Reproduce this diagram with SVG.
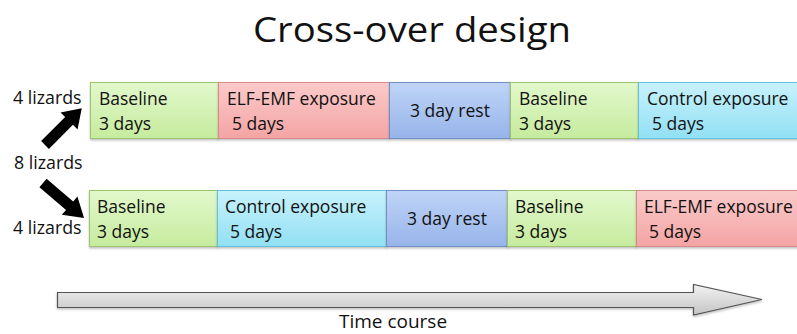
<svg xmlns="http://www.w3.org/2000/svg" width="797" height="334" viewBox="0 0 797 334">
  <defs>
    <linearGradient id="gGreen" x1="0" y1="0" x2="0" y2="1">
      <stop offset="0" stop-color="#e2f8cc"/>
      <stop offset="1" stop-color="#c6eb9e"/>
    </linearGradient>
    <linearGradient id="gRed" x1="0" y1="0" x2="0" y2="1">
      <stop offset="0" stop-color="#fbcaca"/>
      <stop offset="1" stop-color="#f4a4a4"/>
    </linearGradient>
    <linearGradient id="gBlue" x1="0" y1="0" x2="0" y2="1">
      <stop offset="0" stop-color="#bfd4f6"/>
      <stop offset="1" stop-color="#97b4ea"/>
    </linearGradient>
    <linearGradient id="gCyan" x1="0" y1="0" x2="0" y2="1">
      <stop offset="0" stop-color="#c8f2fc"/>
      <stop offset="1" stop-color="#92e0f4"/>
    </linearGradient>
    <linearGradient id="gGrey" x1="0" y1="0" x2="0" y2="1">
      <stop offset="0" stop-color="#f2f2f2"/>
      <stop offset="1" stop-color="#c4c4c4"/>
    </linearGradient>
    <filter id="shadow" x="-5%" y="-10%" width="110%" height="130%">
      <feDropShadow dx="0" dy="1.5" stdDeviation="1.2" flood-color="#000" flood-opacity="0.25"/>
    </filter>
  </defs>
  <style>
    text { font-family: "Open Sans", "Liberation Sans", sans-serif; fill: #111; }
    .box { stroke-width: 1; filter: url(#shadow); }
    .green { fill: url(#gGreen); stroke: #9cc46c; }
    .red { fill: url(#gRed); stroke: #d88a8a; }
    .blue { fill: url(#gBlue); stroke: #6f8fc6; }
    .cyan { fill: url(#gCyan); stroke: #62c2dc; }
    .lbl { font-size: 17.5px; }
    .side { font-size: 17.8px; }
    .mid { text-anchor: middle; }
  </style>

  <rect width="797" height="334" fill="#fff"/>

  <text x="412" y="42" font-size="34" class="mid" textLength="318" lengthAdjust="spacingAndGlyphs">Cross-over design</text>

  <!-- group labels -->
  <g id="labels">
    <text class="side" x="13" y="104">4 lizards</text>
    <text class="side" x="14" y="169">8 lizards</text>
    <text class="side" x="13" y="234">4 lizards</text>
  </g>

  <!-- split arrows -->
  <g id="connectors" fill="#000">
    <polygon transform="translate(45,145) rotate(-45)" points="0,-5.5 34,-5.5 34,-12 52,0 34,12 34,5.5 0,5.5"/>
    <polygon transform="translate(43,183) rotate(40.5)" points="0,-5.5 35,-5.5 35,-12 54,0 35,12 35,5.5 0,5.5"/>
  </g>

  <!-- upper group timeline -->
  <g id="row1">
    <g id="r1-baseline">
      <rect class="box green" x="90.5" y="82.5" width="128" height="56"/>
      <text class="lbl" x="99" y="105">Baseline</text>
      <text class="lbl" x="99" y="130">3 days</text>
    </g>
    <g id="r1-elf">
      <rect class="box red" x="218.5" y="82.5" width="171" height="56"/>
      <text class="lbl" x="227" y="105">ELF-EMF exposure</text>
      <text class="lbl" x="232" y="130">5 days</text>
    </g>
    <g id="r1-rest">
      <rect class="box blue" x="389.5" y="82.5" width="121" height="56"/>
      <text class="lbl mid" x="450" y="117">3 day rest</text>
    </g>
    <g id="r1-baseline2">
      <rect class="box green" x="510.5" y="82.5" width="128" height="56"/>
      <text class="lbl" x="519" y="105">Baseline</text>
      <text class="lbl" x="519" y="130">3 days</text>
    </g>
    <g id="r1-control">
      <rect class="box cyan" x="638.5" y="82.5" width="162" height="56"/>
      <text class="lbl" x="647" y="105">Control exposure</text>
      <text class="lbl" x="652" y="130">5 days</text>
    </g>
  </g>

  <!-- lower group timeline -->
  <g id="row2">
    <g id="r2-baseline">
      <rect class="box green" x="89.5" y="190.5" width="128" height="56"/>
      <text class="lbl" x="97" y="213">Baseline</text>
      <text class="lbl" x="97" y="238">3 days</text>
    </g>
    <g id="r2-control">
      <rect class="box cyan" x="217.5" y="190.5" width="169" height="56"/>
      <text class="lbl" x="225" y="213">Control exposure</text>
      <text class="lbl" x="230" y="238">5 days</text>
    </g>
    <g id="r2-rest">
      <rect class="box blue" x="386.5" y="190.5" width="121" height="56"/>
      <text class="lbl mid" x="447" y="225">3 day rest</text>
    </g>
    <g id="r2-baseline2">
      <rect class="box green" x="507.5" y="190.5" width="129" height="56"/>
      <text class="lbl" x="515" y="213">Baseline</text>
      <text class="lbl" x="515" y="238">3 days</text>
    </g>
    <g id="r2-elf">
      <rect class="box red" x="636.5" y="190.5" width="164" height="56"/>
      <text class="lbl" x="644" y="213">ELF-EMF exposure</text>
      <text class="lbl" x="649" y="238">5 days</text>
    </g>
  </g>

  <!-- time axis -->
  <g id="time-axis">
    <polygon points="57.5,292.5 693.5,292.5 693.5,284.5 762,299.5 693.5,315 693.5,307.5 57.5,307.5" fill="url(#gGrey)" stroke="#555" stroke-width="1.2" filter="url(#shadow)"/>
    <text x="393" y="328" font-size="19" class="mid">Time course</text>
  </g>
</svg>
